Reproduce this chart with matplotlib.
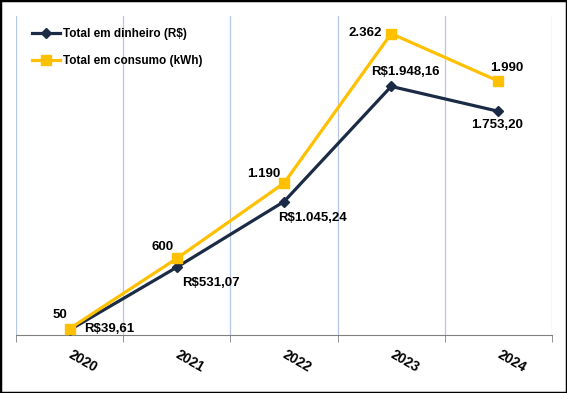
import numpy as np
import matplotlib.pyplot as plt
from matplotlib.patches import Rectangle

# data
years = ['2020', '2021', '2022', '2023', '2024']
dinheiro = [39.61, 531.07, 1045.24, 1948.16, 1753.20]
consumo = [50, 600, 1190, 2362, 1990]
dinheiro_labels = ['R$39,61', 'R$531,07', 'R$1.045,24', 'R$1.948,16', '1.753,20']
consumo_labels = ['50', '600', '1.190', '2.362', '1.990']

navy = '#1C2B45'
gold = '#FFC000'
plt.rcParams['font.family'] = ['Liberation Sans', 'DejaVu Sans']


def px(v):
    # pixel -> points at dpi 100
    return v * 0.72


def main():
    fig = plt.figure(figsize=(5.67, 3.93), dpi=100)
    ax = fig.add_axes([16/567, 1 - 335/393, 536/567, 319/393])
    x = np.arange(len(years))

    ax.plot(x, dinheiro, color=navy, lw=2.3, marker='D', ms=5,
            label='Total em dinheiro (R$)', zorder=3)
    ax.plot(x, consumo, color=gold, lw=2.3, marker='s', ms=7,
            label='Total em consumo (kWh)', zorder=3)

    # data labels (pixel offsets from the point)
    txt = dict(fontsize=9.5, fontweight='bold', color='black')
    off_c = [(-2, 14, 'right'), (-3, 11, 'right'), (-4, 9, 'right'),
             (-9, 1, 'right'), (8, 13, 'center')]
    off_d = [(15, 1, 'left'), (5, -16, 'left'), (-6, -16, 'left'),
             (14, 14, 'center'), (-1, -14, 'center')]
    for i in x:
        dx, dy, ha = off_c[i]
        ax.annotate(consumo_labels[i], (i, consumo[i]), xytext=(px(dx), px(dy)),
                    textcoords='offset points', ha=ha, va='center', **txt)
        dx, dy, ha = off_d[i]
        ax.annotate(dinheiro_labels[i], (i, dinheiro[i]), xytext=(px(dx), px(dy)),
                    textcoords='offset points', ha=ha, va='center', **txt)

    # axes
    ax.set_xlim(-0.5, len(years) - 0.5)
    ax.set_ylim(0, 2500)
    ax.set_yticks([])
    ax.set_xticks(x)
    ax.set_xticklabels(years, rotation=-30, fontsize=10, fontweight='bold',
                       rotation_mode='anchor', ha='left', va='center')
    ax.tick_params(axis='x', which='major', length=0, pad=13)
    ax.set_xticks(np.arange(-0.5, len(years)), minor=True)
    ax.tick_params(axis='x', which='minor', length=5, color='#808080')
    ax.grid(which='minor', axis='x', color='#B4C7E7', lw=0.9)
    for s in ['top', 'left', 'right']:
        ax.spines[s].set_visible(False)
    ax.spines['bottom'].set_color('#808080')

    ax.legend(loc='upper left', bbox_to_anchor=(0.03, 0.962), frameon=False,
              prop={'size': 8.5, 'weight': 'bold'}, handlelength=2.4,
              handletextpad=0.2, labelspacing=1.3, borderpad=0, borderaxespad=0)

    # outer border
    fig.patches.append(Rectangle((0, 0), 1, 1, transform=fig.transFigure,
                                 fill=False, edgecolor='black', lw=2.5))
    fig.savefig('out.png', dpi=100)


main()
